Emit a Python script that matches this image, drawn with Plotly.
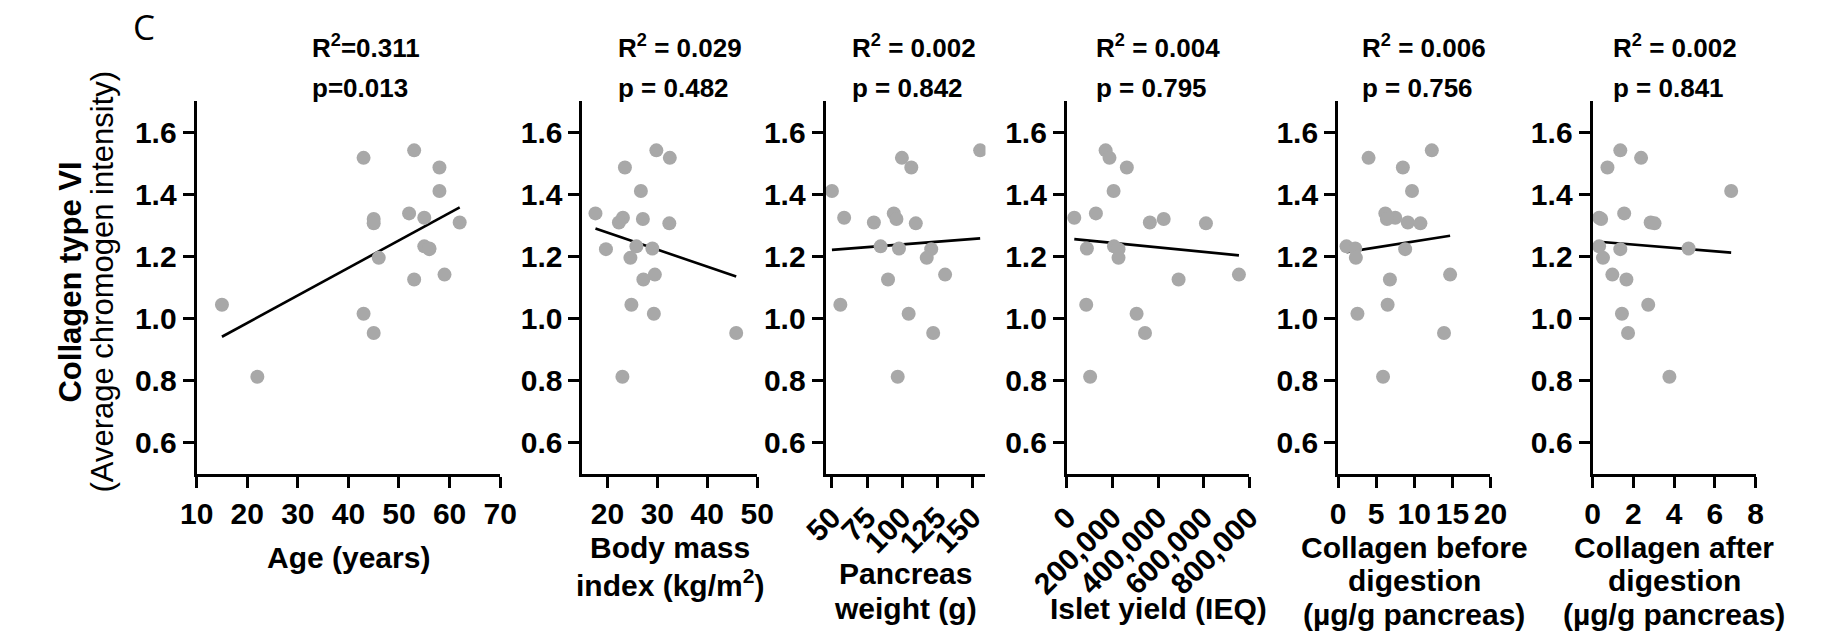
import numpy as np
import plotly.graph_objects as go

# Collagen type VI average chromogen intensity, one value per donor
collagen_vi = [1.542, 1.518, 1.487, 1.411, 1.339, 1.325, 1.321, 1.310, 1.307, 1.233,
               1.226, 1.224, 1.196, 1.142, 1.126, 1.045, 1.016, 0.954, 0.813]

# Donor characteristics, same donor order as collagen_vi
age_years = [53, 43, 58, 58, 52, 55, 45, 62, 45, 55, 56, 56, 46, 59, 53, 15, 43, 45, 22]
bmi = [29.8, 32.5, 23.5, 26.7, 17.6, 23.1, 27.1, 22.3, 32.4, 25.8,
       29.0, 19.7, 24.6, 29.5, 27.2, 24.8, 29.3, 45.8, 23.0]
pancreas_weight_g = [155.7, 99.9, 106.6, 50.0, 94.1, 58.7, 96.0, 79.9, 109.8, 84.7,
                     97.8, 120.8, 117.6, 130.7, 90.0, 56.0, 104.7, 122.2, 96.9]
islet_yield_ieq = [170000, 187000, 263000, 205000, 127400, 32600, 424800, 364000, 610000, 206700,
                   87800, 226500, 226500, 754700, 490000, 85000, 305800, 342700, 102000]
collagen_before = [12.3, 4.0, 8.5, 9.7, 6.2, 7.5, 6.4, 9.15, 10.8, 1.1,
                   2.25, 8.8, 2.33, 14.7, 6.8, 6.5, 2.54, 13.9, 5.9]
collagen_after = [1.36, 2.38, 0.73, 6.8, 1.55, 0.32, 0.42, 2.85, 3.04, 0.32,
                  4.71, 1.36, 0.51, 0.97, 1.66, 2.73, 1.44, 1.74, 3.77]

x_series = [age_years, bmi, pancreas_weight_g, islet_yield_ieq, collagen_before, collagen_after]

r2_labels = ["R<sup>2</sup>=0.311", "R<sup>2</sup> = 0.029", "R<sup>2</sup> = 0.002",
             "R<sup>2</sup> = 0.004", "R<sup>2</sup> = 0.006", "R<sup>2</sup> = 0.002"]
p_labels = ["p=0.013", "p = 0.482", "p = 0.842", "p = 0.795", "p = 0.756", "p = 0.841"]

x_titles = [["Age (years)"],
            ["Body mass", "index (kg/m<sup>2</sup>)"],
            ["Pancreas", "weight (g)"],
            ["Islet yield (IEQ)"],
            ["Collagen before", "digestion", "(µg/g pancreas)"],
            ["Collagen after", "digestion", "(µg/g pancreas)"]]

x_ranges = [[10, 70], [15, 50], [45.5, 159.5], [0, 800000], [0, 20], [0, 8]]
x_ticks = [[10, 20, 30, 40, 50, 60, 70],
           [20, 30, 40, 50],
           [50, 75, 100, 125, 150],
           [0, 200000, 400000, 600000, 800000],
           [0, 5, 10, 15, 20],
           [0, 2, 4, 6, 8]]
x_tick_text = [None, None, None,
               ["0", "200,000", "400,000", "600,000", "800,000"],
               None, None]
x_tick_angle = [0, 0, -45, -45, 0, 0]
y_range = [0.5, 1.7]
y_ticks = [0.6, 0.8, 1.0, 1.2, 1.4, 1.6]

# Page geometry (pixels)
W, H = 1823, 637
panel_px = [(161.7, 475.0), (560.0, 740.3), (811.0, 976.0),
            (1060.0, 1248.3), (1340.0, 1497.3), (1602.7, 1771.0)]
plot_top_px, plot_bottom_px = 101.3, 474.0
stat_left_px = [278.3, 595.0, 836.0, 1088.3, 1362.7, 1621.5]
title_rows_px = {1: [557], 2: [547, 583], 3: [547, 580, 614]}
title_rows_p3 = [573, 608]
title_rows_p4 = [608]

FONT = "Liberation Sans, Arial, sans-serif"
DOT = "#a8a8a8"


def px_x(v):
    return v / W


def px_y(v):
    return 1 - v / H


fig = go.Figure()
annotations = []
layout_axes = {}

for i, xs in enumerate(x_series):
    n = i + 1
    xa = "x" if n == 1 else f"x{n}"
    ya = "y" if n == 1 else f"y{n}"
    xs_arr = np.asarray(xs, dtype=float)
    ys_arr = np.asarray(collagen_vi, dtype=float)

    # least-squares regression line over the data span
    slope, intercept = np.polyfit(xs_arr, ys_arr, 1)
    lx = np.array([xs_arr.min(), xs_arr.max()])
    fig.add_trace(go.Scatter(x=lx, y=slope * lx + intercept, mode="lines",
                             line=dict(color="black", width=2.6),
                             xaxis=xa, yaxis=ya, showlegend=False, hoverinfo="skip"))
    fig.add_trace(go.Scatter(x=xs_arr, y=ys_arr, mode="markers",
                             marker=dict(color=DOT, size=14, line=dict(width=0)),
                             xaxis=xa, yaxis=ya, showlegend=False))

    x0, x1 = panel_px[i]
    xdict = dict(domain=[px_x(x0), px_x(x1)], range=x_ranges[i], anchor=ya,
                 tickvals=x_ticks[i], tickangle=x_tick_angle[i],
                 showline=True, linecolor="black", linewidth=3,
                 ticks="outside", ticklen=11, tickwidth=2.8, tickcolor="black",
                 showgrid=False, zeroline=False,
                 tickfont=dict(family=FONT, size=30, color="black", weight="bold"))
    if x_tick_text[i] is not None:
        xdict["ticktext"] = x_tick_text[i]
    ydict = dict(domain=[px_y(plot_bottom_px), px_y(plot_top_px)], range=y_range, anchor=xa,
                 tickvals=y_ticks, tickformat=".1f",
                 showline=True, linecolor="black", linewidth=3,
                 ticks="outside", ticklen=11, tickwidth=2.8, tickcolor="black",
                 showgrid=False, zeroline=False,
                 tickfont=dict(family=FONT, size=30, color="black", weight="bold"))
    layout_axes["xaxis" if n == 1 else f"xaxis{n}"] = xdict
    layout_axes["yaxis" if n == 1 else f"yaxis{n}"] = ydict

    # statistics above each panel
    for txt, yy in ((r2_labels[i], 46), (p_labels[i], 88)):
        annotations.append(dict(text=f"<b>{txt}</b>", x=px_x(stat_left_px[i]), y=px_y(yy),
                                xref="paper", yref="paper", xanchor="left", yanchor="middle",
                                showarrow=False,
                                font=dict(family=FONT, size=26, color="black")))

    # x-axis titles, one annotation per line
    lines = x_titles[i]
    if i == 2:
        rows = title_rows_p3
    elif i == 3:
        rows = title_rows_p4
    else:
        rows = title_rows_px[len(lines)]
    cx = (x0 + x1) / 2
    for txt, yy in zip(lines, rows):
        annotations.append(dict(text=f"<b>{txt}</b>", x=px_x(cx), y=px_y(yy),
                                xref="paper", yref="paper", xanchor="center", yanchor="middle",
                                showarrow=False,
                                font=dict(family=FONT, size=30, color="black")))

# shared y-axis title
annotations.append(dict(text="<b>Collagen type VI</b>", x=px_x(31), y=px_y(282.5),
                        xref="paper", yref="paper", xanchor="center", yanchor="middle",
                        textangle=-90, showarrow=False,
                        font=dict(family=FONT, size=31, color="black")))
annotations.append(dict(text="(Average chromogen intensity)", x=px_x(65), y=px_y(281.5),
                        xref="paper", yref="paper", xanchor="center", yanchor="middle",
                        textangle=-90, showarrow=False,
                        font=dict(family=FONT, size=31, color="black")))
# panel letter
annotations.append(dict(text="C", x=px_x(107), y=px_y(27),
                        xref="paper", yref="paper", xanchor="center", yanchor="middle",
                        showarrow=False,
                        font=dict(family="Open Sans, Noto Sans, sans-serif", size=35, color="black")))

fig.update_layout(width=W, height=H, margin=dict(l=0, r=0, t=0, b=0),
                  paper_bgcolor="white", plot_bgcolor="white",
                  annotations=annotations, **layout_axes)

fig.write_html("out.html")
